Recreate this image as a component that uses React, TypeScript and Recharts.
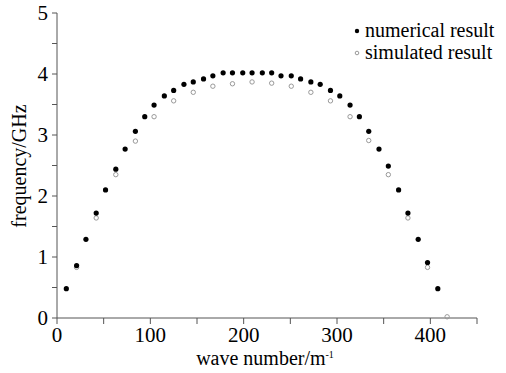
import { ScatterChart, Scatter, XAxis, YAxis } from "recharts";

// numerical result (filled dots)
const numX = [10, 21, 31, 42, 52, 63, 73, 84, 94, 104, 115, 125, 136, 146, 157, 167, 178, 188, 199, 209, 220, 230, 240, 251, 261, 272, 282, 293, 303, 314, 324, 334, 345, 355, 366, 376, 387, 397, 408];
const numY = [0.48, 0.86, 1.29, 1.72, 2.1, 2.44, 2.77, 3.06, 3.3, 3.49, 3.64, 3.73, 3.83, 3.87, 3.92, 3.97, 4.02, 4.02, 4.02, 4.02, 4.02, 4.02, 3.97, 3.97, 3.92, 3.87, 3.83, 3.73, 3.64, 3.49, 3.3, 3.06, 2.77, 2.49, 2.1, 1.72, 1.29, 0.91, 0.48];

// simulated result (open circles)
const simX = [21, 42, 63, 84, 104, 125, 146, 167, 188, 209, 230, 251, 272, 293, 314, 334, 355, 376, 397, 418];
const simY = [0.83, 1.64, 2.35, 2.9, 3.3, 3.56, 3.7, 3.8, 3.84, 3.87, 3.85, 3.8, 3.7, 3.56, 3.3, 2.91, 2.35, 1.64, 0.83, 0.02];

const xTicks = [0, 50, 100, 150, 200, 250, 300, 350, 400, 450];
const yTicks = [0, 0.5, 1, 1.5, 2, 2.5, 3, 3.5, 4, 4.5, 5];

const numData = numX.map((x, i) => ({ x, y: numY[i] }));
const simData = simX.map((x, i) => ({ x, y: simY[i] }));

const FONT = "'Liberation Serif', 'Times New Roman', serif";
const AXIS = "#555";

const FilledDot = (props: any) => <circle cx={props.cx} cy={props.cy} r={2.6} fill="#000" />;
const OpenDot = (props: any) => (
  <circle cx={props.cx} cy={props.cy} r={2.2} fill="none" stroke="#999" strokeWidth={1} />
);

export default function App() {
  return (
    <div style={{ position: "relative", width: 506, height: 373, background: "#fff" }}>
      <style>{`body{margin:0}`}</style>
      <ScatterChart width={506} height={373} margin={{ top: 13, right: 29, bottom: 15, left: 0 }}>
        <XAxis
          type="number"
          dataKey="x"
          domain={[0, 450]}
          ticks={xTicks}
          interval={0}
          tickFormatter={(v: number) => (v % 100 === 0 && v <= 400 ? String(v) : "")}
          stroke={AXIS}
          tickSize={6}
          tickMargin={3}
          height={40}
          tick={{ fill: "#000", fontSize: 21, fontFamily: FONT }}
        />
        <YAxis
          type="number"
          dataKey="y"
          domain={[0, 5]}
          ticks={yTicks}
          interval={0}
          tickFormatter={(v: number) => (Number.isInteger(v) ? String(v) : "")}
          stroke={AXIS}
          tickSize={5}
          tickMargin={4}
          width={57}
          tick={{ fill: "#000", fontSize: 21, fontFamily: FONT }}
        />
        <Scatter name="simulated result" data={simData} shape={<OpenDot />} isAnimationActive={false} />
        <Scatter name="numerical result" data={numData} shape={<FilledDot />} isAnimationActive={false} />
      </ScatterChart>
      <svg width={506} height={373} style={{ position: "absolute", left: 0, top: 0, pointerEvents: "none" }}>
        <text x={265} y={365} textAnchor="middle" fontFamily={FONT} fontSize={20} fill="#000">
          wave number/m
          <tspan fontSize={10} dy={-7}>-1</tspan>
        </text>
        <text
          x={26}
          y={166}
          transform="rotate(-90 26 166)"
          textAnchor="middle"
          fontFamily={FONT}
          fontSize={20}
          fill="#000"
        >
          frequency/GHz
        </text>
        <circle cx={357} cy={31} r={2.2} fill="#000" />
        <text x={365} y={37} fontFamily={FONT} fontSize={20} fill="#000">numerical result</text>
        <circle cx={357} cy={53} r={1.8} fill="none" stroke="#999" />
        <text x={365} y={59} fontFamily={FONT} fontSize={20} fill="#000">simulated result</text>
      </svg>
    </div>
  );
}
